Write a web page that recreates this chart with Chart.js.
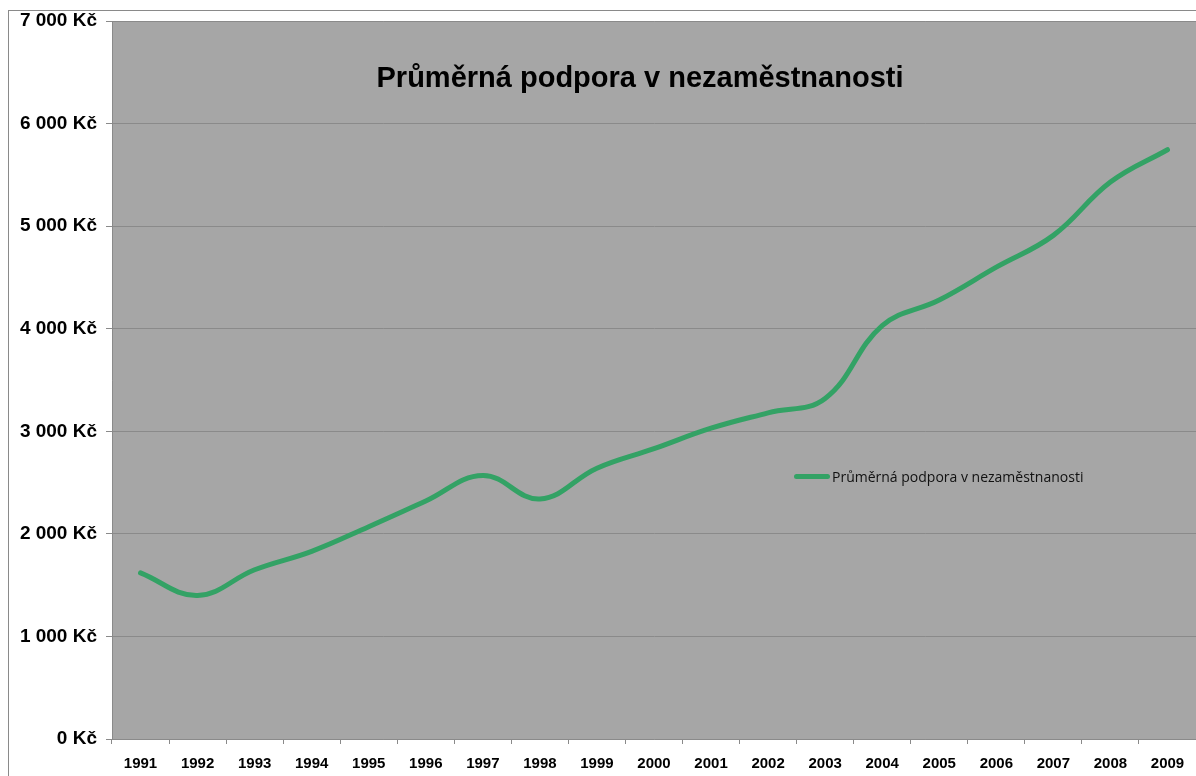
<!DOCTYPE html>
<html>
<head>
<meta charset="utf-8">
<script src="https://cdn.jsdelivr.net/npm/chart.js@4.4.1/dist/chart.umd.min.js"></script>
<style>
  html, body { margin: 0; padding: 0; background: #fff; overflow: hidden; }
  #wrap { position: relative; width: 1196px; height: 776px; }
  #frame { position: absolute; left: 8px; top: 10px; right: -2px; bottom: -2px; border: 1px solid #8a8a8a; }
  #chart { position: absolute; left: 0; top: 0; }
  #title {
    position: absolute; left: 0; width: 1280px; top: 61px; text-align: center;
    font: bold 29px "Liberation Sans", Arial, sans-serif; color: #000;
  }
  #legend {
    position: absolute; left: 794px; top: 467px; display: flex; align-items: center;
    font: 14px "Open Sans", sans-serif; color: #111;
  }
  #legend .swatch { width: 36px; height: 5px; border-radius: 3px; background: #33a265; margin-right: 2px; }
</style>
</head>
<body>
<div id="wrap">
  <div id="frame"></div>
  <canvas id="chart" width="1196" height="776"></canvas>
  <div id="title">Průměrná podpora v nezaměstnanosti</div>
  <div id="legend"><span class="swatch"></span><span id="legend-text"></span></div>
</div>
<script>
// Průměrná podpora v nezaměstnanosti, 1991–2009 (Kč)
const seriesName = "Průměrná podpora v nezaměstnanosti";
const years  = ["1991","1992","1993","1994","1995","1996","1997","1998","1999","2000",
                "2001","2002","2003","2004","2005","2006","2007","2008","2009"];
const podpora = [1620, 1400, 1650, 1830, 2070, 2320, 2570, 2340, 2640, 2830,
                 3030, 3180, 3320, 4030, 4280, 4600, 4910, 5430, 5745];
const yTicks = [0, 1000, 2000, 3000, 4000, 5000, 6000, 7000];

document.getElementById("legend-text").textContent = seriesName;

const plotBg = {
  id: "plotBg",
  beforeDraw(chart) {
    const { ctx, chartArea: a } = chart;
    ctx.save();
    ctx.fillStyle = "#a6a6a6";
    ctx.fillRect(a.left, a.top, a.right - a.left, a.bottom - a.top);
    ctx.restore();
  }
};

const fmtKc = v => String(v).replace(/\B(?=(\d{3})+(?!\d))/g, " ") + " Kč";

new Chart(document.getElementById("chart"), {
  type: "line",
  data: {
    labels: years,
    datasets: [{
      label: seriesName,
      data: podpora,
      borderColor: "#33a265",
      borderWidth: 5,
      pointRadius: 0,
      tension: 0.4,
      borderCapStyle: "round",
      fill: false
    }]
  },
  options: {
    responsive: false,
    animation: false,
    layout: { padding: { left: 0, top: 21, right: 0, bottom: 0 } },
    plugins: { legend: { display: false }, title: { display: false }, tooltip: { enabled: false } },
    scales: {
      x: {
        offset: true,
        grid: { offset: true, drawOnChartArea: false, drawTicks: true, tickLength: 5, color: "#8a8a8a" },
        border: { color: "#8a8a8a", width: 1 },
        ticks: { color: "#000", padding: 11, maxRotation: 0, autoSkip: false,
                 font: { family: "'Liberation Sans', Arial, sans-serif", size: 15, weight: "bold" } },
        afterFit(scale) { scale.height = 37; }
      },
      y: {
        min: 0, max: 7000,
        afterBuildTicks(scale) { scale.ticks = yTicks.map(v => ({ value: v })); },
        grid: { color: "#8a8a8a", tickLength: 6, lineWidth: 1 },
        border: { color: "#8a8a8a", width: 1 },
        ticks: { color: "#000", padding: 9, callback: v => fmtKc(v),
                 font: { family: "'Liberation Sans', Arial, sans-serif", size: 19, weight: "bold" } },
        afterFit(scale) { scale.width = 112; }
      }
    }
  },
  plugins: [plotBg]
});
</script>
</body>
</html>
